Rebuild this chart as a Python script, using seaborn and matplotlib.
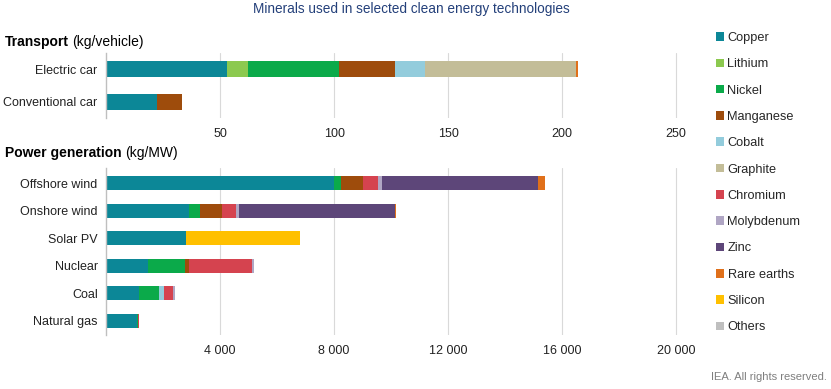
import numpy as np
import pandas as pd
import matplotlib
matplotlib.use("Agg")
import matplotlib.pyplot as plt
from matplotlib.patches import Patch
from matplotlib.ticker import FuncFormatter
import seaborn as sns

# minerals, in stacking / legend order
minerals = ["Copper", "Lithium", "Nickel", "Manganese", "Cobalt", "Graphite",
            "Chromium", "Molybdenum", "Zinc", "Rare earths", "Silicon", "Others"]
colours = ["#0C8797", "#8CC94F", "#0BAA4A", "#9E4C0C", "#93CCDC", "#C3BD98",
           "#D5434F", "#B0A6C4", "#5D4679", "#E0701A", "#FFC000", "#BFBFBF"]

# Transport (kg/vehicle)
transport = ["Electric car", "Conventional car"]
t_copper = [53.2, 22.3]
t_lithium = [8.9, 0]
t_nickel = [39.9, 0]
t_manganese = [24.5, 11.1]
t_cobalt = [13.3, 0]
t_graphite = [66.3, 0]
t_rare_earths = [0.7, 0]

# Power generation (kg/MW)
power = ["Offshore wind", "Onshore wind", "Solar PV", "Nuclear", "Coal", "Natural gas"]
p_copper = [8000, 2900, 2822, 1473, 1150, 1100]
p_nickel = [240, 404, 0, 1297, 721, 16]
p_manganese = [790, 780, 0, 148, 5, 0]
p_cobalt = [0, 0, 0, 0, 170, 0]
p_chromium = [525, 470, 0, 2190, 308, 48]
p_molybdenum = [109, 99, 0, 70, 80, 0]
p_zinc = [5500, 5500, 0, 0, 0, 0]
p_rare_earths = [239, 14, 0, 0, 0, 0]
p_silicon = [0, 0, 4000, 0, 0, 0]
p_others = [0, 0, 0, 30, 0, 0]

zero2 = [0, 0]
zero6 = [0] * 6
df_t = pd.DataFrame({
    "Copper": t_copper, "Lithium": t_lithium, "Nickel": t_nickel,
    "Manganese": t_manganese, "Cobalt": t_cobalt, "Graphite": t_graphite,
    "Chromium": zero2, "Molybdenum": zero2, "Zinc": zero2,
    "Rare earths": t_rare_earths, "Silicon": zero2, "Others": zero2,
}, index=transport)
df_p = pd.DataFrame({
    "Copper": p_copper, "Lithium": zero6, "Nickel": p_nickel,
    "Manganese": p_manganese, "Cobalt": p_cobalt, "Graphite": zero6,
    "Chromium": p_chromium, "Molybdenum": p_molybdenum, "Zinc": p_zinc,
    "Rare earths": p_rare_earths, "Silicon": p_silicon, "Others": p_others,
}, index=power)

sns.set_theme(style="white")
plt.rcParams["font.family"] = ["Liberation Sans", "DejaVu Sans"]

fig = plt.figure(figsize=(8.31, 3.89), dpi=100)
ax_t = fig.add_axes([106 / 831, 1 - 118 / 389, 593 / 831, 65 / 389])
ax_p = fig.add_axes([106 / 831, 1 - 335 / 389, 593 / 831, 167 / 389])


def stacked(ax, df, width):
    cum = df.cumsum(axis=1)
    # draw cumulative totals from the last mineral back, so each shows its segment
    for m, c in reversed(list(zip(minerals, colours))):
        d = pd.DataFrame({"cat": df.index, "val": cum[m].values})
        sns.barplot(data=d, x="val", y="cat", color=c, width=width,
                    saturation=1, ax=ax, orient="h", linewidth=0)


stacked(ax_t, df_t, 0.5)
stacked(ax_p, df_p, 0.51)

ax_t.set_xlim(0, 260)
ax_t.set_ylim(1.485, -0.485)
ax_t.set_xticks([50, 100, 150, 200, 250])
ax_p.set_xlim(0, 20800)
ax_p.set_ylim(5.52, -0.545)
ax_p.set_xticks([4000, 8000, 12000, 16000, 20000])
ax_p.xaxis.set_major_formatter(FuncFormatter(lambda v, p: f"{int(v):,}".replace(",", " ")))

for ax in (ax_t, ax_p):
    ax.set_xlabel("")
    ax.set_ylabel("")
    for s in ["top", "right", "bottom"]:
        ax.spines[s].set_visible(False)
    ax.spines["left"].set_color("#BFBFBF")
    ax.spines["left"].set_linewidth(1)
    ax.grid(axis="x", color="#D9D9D9", linewidth=0.8)
    ax.set_axisbelow(True)
    ax.tick_params(axis="x", length=0, pad=7, labelsize=9, colors="#222222")
    ax.tick_params(axis="y", length=0, pad=6, labelsize=9, colors="#222222")

fig.text(411 / 831, 1 - 9 / 389, "Minerals used in selected clean energy technologies",
         ha="center", va="center", fontsize=9.8, color="#24407A")

fig.canvas.draw()
r = fig.canvas.get_renderer()
for y, bold, rest in [(42, "Transport", "(kg/vehicle)"),
                      (153, "Power generation", "(kg/MW)")]:
    t = fig.text(5 / 831, 1 - y / 389, bold, ha="left", va="center",
                 fontsize=10, fontweight="bold", color="black")
    bb = t.get_window_extent(renderer=r)
    fig.text((bb.x1 + 3) / fig.bbox.width, 1 - y / 389, rest, ha="left", va="center",
             fontsize=10, color="black")

handles = [Patch(facecolor=c, edgecolor="none") for c in colours]
fig.legend(handles, minerals, loc="upper left", bbox_to_anchor=(716 / 831, 1 - 32 / 389),
           frameon=False, fontsize=9.2, handlelength=0.65, handleheight=0.65,
           handletextpad=0.25, labelspacing=1.12, borderaxespad=0, borderpad=0)

fig.text(827 / 831, 1 - 377 / 389, "IEA. All rights reserved.", ha="right", va="center",
         fontsize=8, color="#7F7F7F")

fig.savefig("out.png", dpi=100)
